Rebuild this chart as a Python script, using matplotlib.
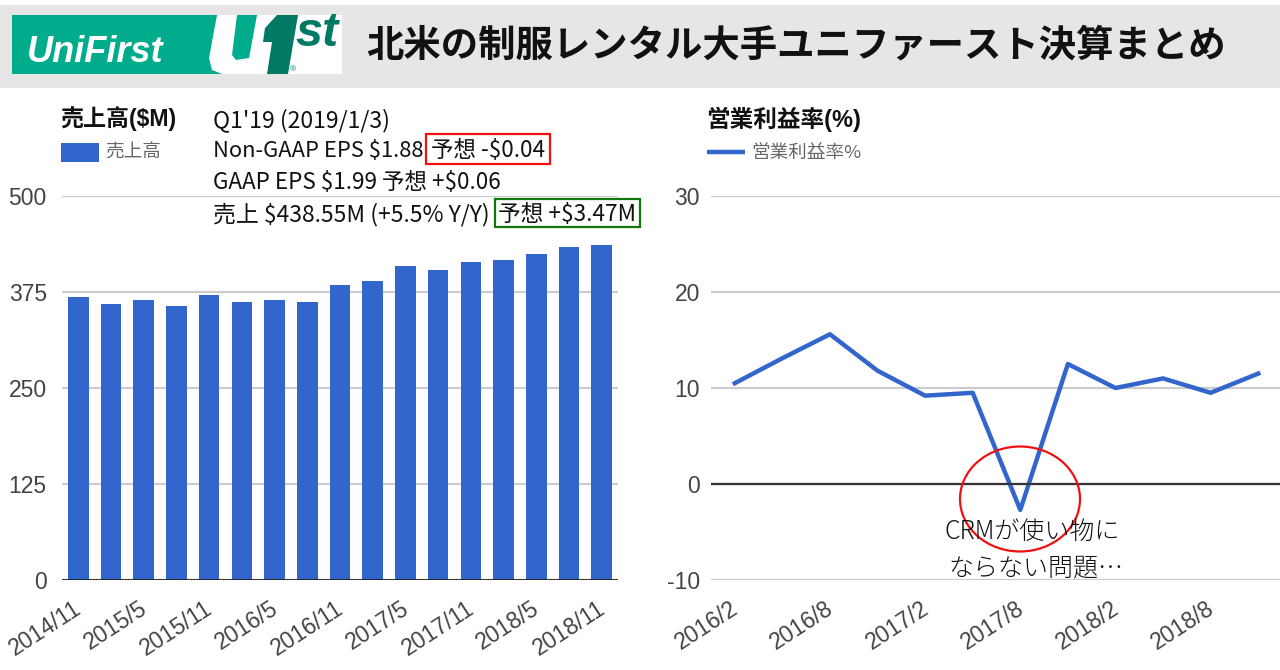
import matplotlib
matplotlib.use("Agg")
import matplotlib.pyplot as plt
from matplotlib.patches import Rectangle, Ellipse, Polygon
from matplotlib.transforms import ScaledTranslation

W, H = 1280, 670
JP = ['Noto Sans CJK JP', 'DejaVu Sans']
SANS = ['Liberation Sans', 'Noto Sans CJK JP']
BLUE = '#3366cc'

sales_quarters = ['2014/11', '2015/2', '2015/5', '2015/8', '2015/11', '2016/2', '2016/5', '2016/8',
                  '2016/11', '2017/2', '2017/5', '2017/8', '2017/11', '2018/2', '2018/5', '2018/8', '2018/11']
sales = [368, 360, 365, 357, 371, 362, 365, 362, 384, 389, 409, 403, 414, 417, 424, 433, 436]
sales_ticks = [0, 125, 250, 375, 500]

margin_quarters = ['2016/2', '2016/5', '2016/8', '2016/11', '2017/2', '2017/5', '2017/8', '2017/11',
                   '2018/2', '2018/5', '2018/8', '2018/11']
margin = [10.5, 13.1, 15.6, 11.8, 9.2, 9.5, -2.7, 12.5, 10.0, 11.0, 9.5, 11.5]
margin_ticks = [-10, 0, 10, 20, 30]


def px_axes(fig, x0, y0, x1, y1):
    # pixel box, y counted from the top
    return fig.add_axes([x0 / W, 1 - y1 / H, (x1 - x0) / W, (y1 - y0) / H])


def style_axes(ax, ticks):
    for s in ax.spines.values():
        s.set_visible(False)
    ax.set_yticks(ticks)
    ax.set_yticklabels([str(t) for t in ticks])
    ax.grid(axis='y', color='#cccccc', lw=1.6)
    ax.set_axisbelow(True)
    ax.tick_params(length=0)
    for t in ax.get_yticklabels():
        t.set_fontfamily(SANS)
        t.set_fontsize(16.5)
        t.set_color('#444444')


def x_labels(ax, labels, nudge):
    ax.set_xticks(range(0, len(labels), 2))
    ax.set_xticklabels(labels[::2], rotation=33, ha='right', rotation_mode='anchor',
                       family=SANS, fontsize=16.5, color='#444444')
    ax.tick_params(axis='x', pad=12)
    shift = ScaledTranslation(nudge / 100, 0, fig.dpi_scale_trans)
    for t in ax.get_xticklabels():
        t.set_transform(t.get_transform() + shift)


def note(ov, x, y, s, **kw):
    # dollar signs are literal here
    kw.setdefault('family', JP)
    kw.setdefault('fontsize', 15.8)
    kw.setdefault('color', '#111111')
    ov.text(x, y, s, va='center', ha='left', parse_math=False, **kw)


fig = plt.figure(figsize=(W / 100, H / 100), dpi=100, facecolor='white')

# left chart
ax1 = px_axes(fig, 62, 196, 618, 580)
ax1.bar(range(len(sales)), sales, width=0.63, color=BLUE)
ax1.set_xlim(-0.5, len(sales) - 0.5)
ax1.set_ylim(0, 500)
style_axes(ax1, sales_ticks)
ax1.tick_params(axis='y', pad=11)
ax1.axhline(0, color='#222222', lw=2)
x_labels(ax1, sales_quarters, -5)

# right chart
ax2 = px_axes(fig, 711, 196, 1282, 580)
ax2.plot(range(len(margin)), margin, color=BLUE, lw=3.2)
ax2.set_xlim(-0.5, len(margin) - 0.5)
ax2.set_ylim(-10, 30)
style_axes(ax2, margin_ticks)
ax2.tick_params(axis='y', pad=8)
ax2.axhline(0, color='#333333', lw=1.6)
x_labels(ax2, margin_quarters, -5)

# overlay in pixel coordinates for header, legends and notes
ov = fig.add_axes([0, 0, 1, 1], zorder=5)
ov.set_xlim(0, W)
ov.set_ylim(H, 0)
ov.axis('off')
ov.patch.set_alpha(0)

ov.add_patch(Rectangle((0, 5), W, 83, color='#e6e6e6', lw=0))
ov.add_patch(Rectangle((12, 15), 330, 59, color='#00ac8c', lw=0))
ov.add_patch(Polygon([[217, 15], [342, 15], [342, 74], [222, 74], [212, 70], [209, 58]], color='white', lw=0))
ov.add_patch(Polygon([[237, 15], [257, 15], [249, 58], [236, 60], [232, 55]], color='#00ac8c', lw=0))
ov.add_patch(Polygon([[277, 15], [298, 15], [288, 74], [267, 74], [272, 42], [263, 42], [265, 28]],
                     color='#007a65', lw=0))
note(ov, 27, 52, 'UniFirst', family=SANS, fontsize=26, style='italic', weight='bold', color='white')
note(ov, 295, 33, 'st', family=SANS, fontsize=35, style='italic', weight='bold', color='#007a65')
note(ov, 290, 70, '®', family=SANS, fontsize=6, color='#007a65')
note(ov, 366, 45, '北米の制服レンタル大手ユニファースト決算まとめ', fontsize=26.9, weight='bold')

note(ov, 60, 119, '売上高($M)', family=SANS, fontsize=16.6, weight='bold')
ov.add_patch(Rectangle((61, 143), 38, 19, color=BLUE, lw=0))
note(ov, 105, 153, '売上高', fontsize=13.4, color='#666666')

note(ov, 706, 119, '営業利益率(%)', family=SANS, fontsize=17, weight='bold')
ov.plot([707, 745], [152, 152], color=BLUE, lw=3.2, solid_capstyle='butt')
note(ov, 751, 153, '営業利益率%', fontsize=13.4, color='#666666')

note(ov, 213, 120, "Q1'19 (2019/1/3)", fontsize=16.6)
note(ov, 213, 151, 'Non-GAAP EPS $1.88')
note(ov, 431, 151, '予想 -$0.04', fontsize=16.2)
note(ov, 213, 182, 'GAAP EPS $1.99 予想 +$0.06', fontsize=16.2)
note(ov, 213, 215, '売上 $438.55M (+5.5% Y/Y)', fontsize=16.5)
note(ov, 498, 215, '予想 +$3.47M', fontsize=16.3)
ov.add_patch(Rectangle((426, 134), 124, 30, fill=False, ec='#ee1111', lw=1.6))
ov.add_patch(Rectangle((495, 199), 145, 28, fill=False, ec='#117711', lw=1.6))

ov.add_patch(Ellipse((1020, 499), 120, 105, fill=False, ec='#ee1111', lw=1.6))
note(ov, 945, 532, 'CRMが使い物に', fontsize=18, weight='light')
note(ov, 948, 568, 'ならない問題…', fontsize=18, weight='light')

fig.savefig('out.png', dpi=100, facecolor='white')
